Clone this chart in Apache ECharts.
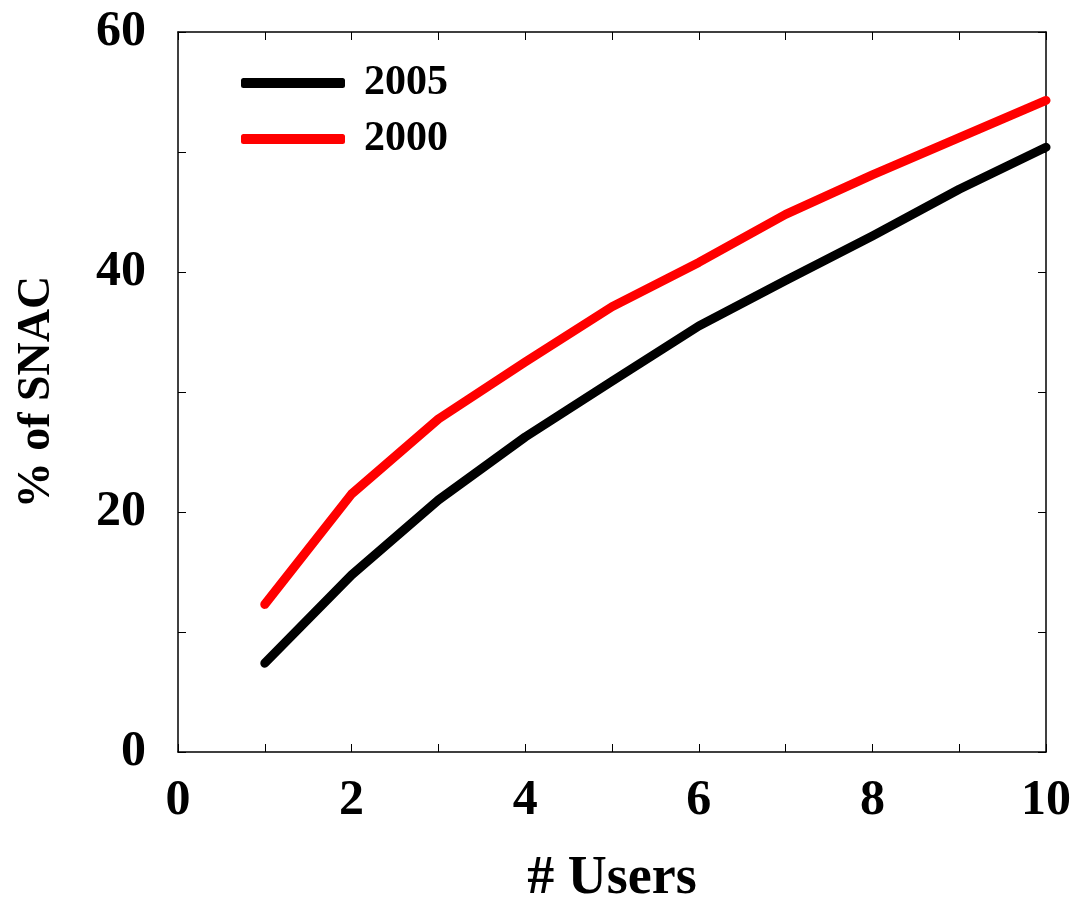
<!DOCTYPE html>
<html><head><meta charset="utf-8">
<script src="https://cdn.jsdelivr.net/npm/echarts@6/dist/echarts.min.js"></script>
<style>html,body{margin:0;padding:0;background:#fff}#c{width:1078px;height:900px}</style>
</head><body><div id="c"></div>
<script>
const users = [1,2,3,4,5,6,7,8,9,10];
const s2005 = [7.4,14.75,21.0,26.25,30.9,35.5,39.3,43.0,46.9,50.4];
const s2000 = [12.3,21.5,27.75,32.5,37.1,40.8,44.8,48.1,51.2,54.3];
const seriesNames = ['2005','2000'];

const font = 'Liberation Serif';
const chart = echarts.init(document.getElementById('c'));
const axLine = {show:true, onZero:false, lineStyle:{color:'#000', width:1.5}};
const tick = {inside:true, length:8, lineStyle:{color:'#000', width:1}};
chart.setOption({
  animation:false,
  grid:{left:178, right:32, top:32, bottom:148, containLabel:false, outerBoundsMode:'none'},
  legend:{
    orient:'vertical', left:236, top:57, itemGap:14,
    itemWidth:104, itemHeight:10, icon:'roundRect',
    textStyle:{fontFamily:font, fontWeight:'bold', fontSize:42, color:'#000', padding:[0,0,0,14]},
    data:seriesNames
  },
  xAxis:[{
    type:'value', min:0, max:10, interval:1,
    name:'# Users', nameLocation:'middle', nameGap:100,
    nameTextStyle:{fontFamily:font, fontWeight:'bold', fontSize:54, color:'#000'},
    axisLine:axLine, axisTick:tick,
    splitLine:{show:false},
    axisLabel:{fontFamily:font, fontWeight:'bold', fontSize:50, color:'#000', margin:24,
      formatter:v=> (v%2===0? String(v):'')}
  },{
    type:'value', min:0, max:10, interval:1, position:'top',
    axisLine:axLine, axisTick:tick,
    axisLabel:{show:false}, splitLine:{show:false}
  }],
  yAxis:[{
    type:'value', min:0, max:60, interval:10,
    name:'% of SNAC', nameLocation:'middle', nameGap:118, nameRotate:90,
    nameTextStyle:{fontFamily:font, fontWeight:'bold', fontSize:46, color:'#000'},
    axisLine:axLine, axisTick:tick,
    splitLine:{show:false},
    axisLabel:{fontFamily:font, fontWeight:'bold', fontSize:50, color:'#000', margin:32,
      formatter:v=> (v%20===0? String(v):'')}
  },{
    type:'value', min:0, max:60, interval:10, position:'right',
    axisLine:axLine, axisTick:tick,
    axisLabel:{show:false}, splitLine:{show:false}
  }],
  series:[
    {name:'2005', type:'line', data:users.map((u,i)=>[u,s2005[i]]), showSymbol:false,
      color:'#000', lineStyle:{color:'#000', width:9, cap:'round', join:'round'}},
    {name:'2000', type:'line', data:users.map((u,i)=>[u,s2000[i]]), showSymbol:false,
      color:'#ff0000', lineStyle:{color:'#ff0000', width:9, cap:'round', join:'round'}}
  ]
});
</script></body></html>
